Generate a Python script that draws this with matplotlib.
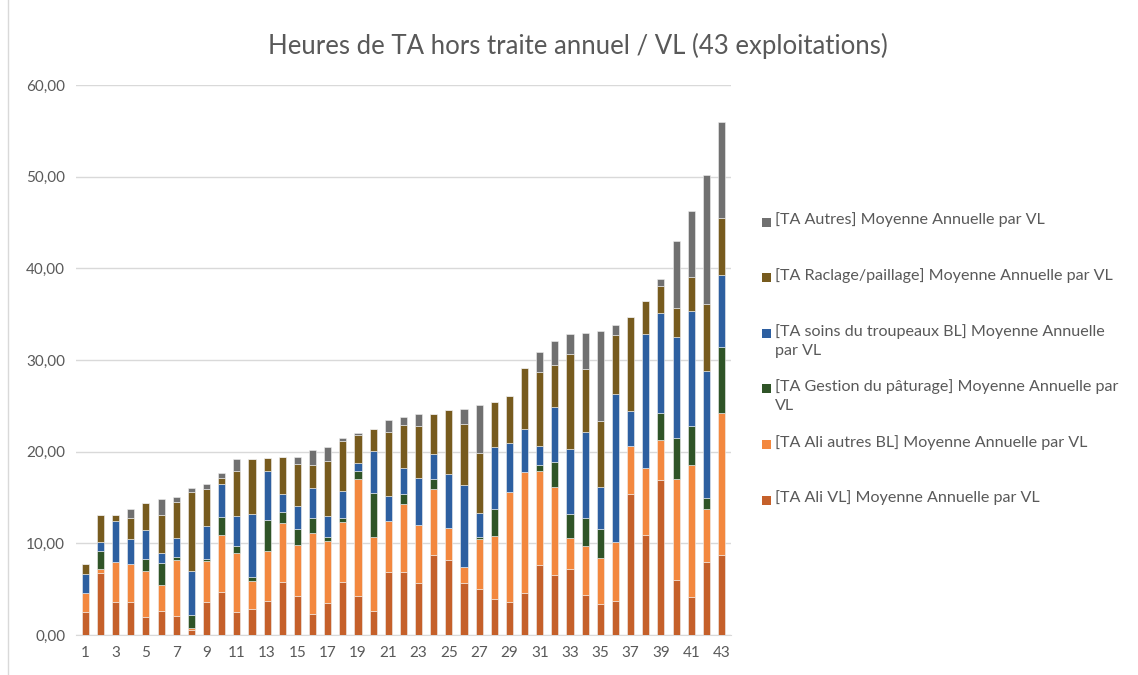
import numpy as np
import matplotlib
matplotlib.use('Agg')
matplotlib.rcParams['font.family'] = ['Lato', 'DejaVu Sans']
import matplotlib.pyplot as plt
from matplotlib.patches import Rectangle
from matplotlib.lines import Line2D

exploitations = list(range(1, 44))

ali_vl = [2.51, 6.76, 3.60, 3.60, 2.00, 2.62, 2.07, 0.55, 3.60, 4.76,
          2.55, 2.87, 3.78, 5.85, 4.29, 2.36, 3.56, 5.85, 4.22, 2.69,
          6.87, 6.87, 5.67, 8.76, 8.18, 5.67, 5.09, 3.93, 3.60, 4.58,
          7.60, 6.51, 7.27, 4.33, 3.38, 3.75, 15.42, 10.91, 16.91, 6.00,
          4.15, 8.00, 8.73]
ali_autres = [2.07, 0.48, 4.36, 4.15, 4.98, 2.83, 6.11, 0.25, 4.47, 6.15,
              6.36, 3.02, 5.38, 6.40, 5.56, 8.80, 6.73, 6.51, 12.80, 8.07,
              5.53, 7.49, 6.37, 7.20, 3.49, 1.75, 5.35, 6.87, 12.04, 13.27,
              10.33, 9.67, 3.31, 5.42, 5.06, 6.43, 5.16, 7.34, 4.36, 10.98,
              14.43, 5.75, 15.52]
paturage = [0.00, 1.96, 0.00, 0.00, 1.35, 2.44, 0.37, 1.35, 0.22, 1.93,
            0.87, 0.47, 3.35, 1.20, 1.71, 1.57, 0.47, 0.40, 0.94, 4.73,
            0.00, 1.02, 0.00, 1.02, 0.00, 0.00, 0.29, 2.98, 0.00, 0.00,
            0.62, 2.66, 2.69, 3.01, 3.12, 0.00, 0.00, 0.00, 2.95, 4.51,
            4.18, 1.23, 7.17]
soins = [2.11, 0.98, 4.51, 2.76, 3.09, 1.09, 2.07, 4.90, 3.67, 3.63,
         3.17, 6.91, 5.38, 2.00, 2.48, 3.31, 2.22, 2.95, 0.80, 4.58,
         2.73, 2.87, 5.05, 2.73, 5.86, 8.98, 2.62, 6.73, 5.27, 4.66,
         2.03, 6.07, 7.06, 9.39, 4.55, 16.15, 3.86, 14.55, 10.91, 11.02,
         12.62, 13.78, 7.85]
raclage = [1.02, 2.91, 0.66, 2.29, 3.02, 4.11, 3.93, 8.62, 3.97, 0.62,
           4.94, 5.97, 1.42, 3.93, 4.61, 2.47, 6.00, 5.45, 3.02, 2.40,
           6.98, 4.66, 5.71, 4.44, 7.05, 6.62, 6.54, 4.91, 5.13, 6.62,
           8.11, 4.58, 10.32, 6.83, 7.20, 6.36, 10.21, 3.67, 2.91, 3.13,
           3.64, 7.31, 6.26]
autres = [0.00, 0.00, 0.00, 0.98, 0.00, 1.71, 0.54, 0.40, 0.51, 0.58,
          1.31, 0.00, 0.00, 0.00, 0.80, 1.64, 1.49, 0.33, 0.26, 0.00,
          1.38, 0.84, 1.31, 0.00, 0.00, 1.67, 5.20, 0.00, 0.00, 0.00,
          2.15, 2.55, 2.22, 4.00, 9.89, 1.09, 0.00, 0.00, 0.76, 7.34,
          7.23, 14.11, 10.43]

series_names = ['[TA Ali VL] Moyenne Annuelle par VL',
                '[TA Ali autres BL] Moyenne Annuelle par VL',
                '[TA Gestion du pâturage] Moyenne Annuelle par\nVL',
                '[TA soins du troupeaux BL] Moyenne Annuelle\npar VL',
                '[TA Raclage/paillage] Moyenne Annuelle par VL',
                '[TA Autres] Moyenne Annuelle par VL']
series_values = [ali_vl, ali_autres, paturage, soins, raclage, autres]
colors = ['#C5602A', '#F3883F', '#2F5427', '#2D5FA0', '#775B1E', '#707070']

fig = plt.figure(figsize=(11.38, 6.75), dpi=100)
ax = fig.add_axes([0.067, 0.059, 0.575, 0.815])

x = np.array(exploitations)
bottom = np.zeros(len(x))
for vals, col in zip(series_values, colors):
    vals = np.array(vals)
    ax.bar(x, vals, width=0.47, bottom=bottom, color=col,
           edgecolor='#f0f0f0', linewidth=0.4, zorder=3)
    bottom += vals

ax.set_ylim(0, 60)
ax.set_xlim(0.4, 43.6)
ax.set_yticks(np.arange(0, 61, 10))
ax.set_yticklabels(['{:.2f}'.format(v).replace('.', ',') for v in np.arange(0, 61, 10)])
ax.set_xticks(x[::2])
ax.set_xticklabels([str(i) for i in x[::2]])
ax.tick_params(length=0, labelsize=11, colors='#595959', pad=8)
ax.yaxis.grid(True, color='#d9d9d9', linewidth=1, zorder=0)
for s in ['top', 'right', 'left']:
    ax.spines[s].set_visible(False)
ax.spines['bottom'].set_color('#d9d9d9')

fig.text(0.508, 0.932, 'Heures de TA hors traite annuel / VL (43 exploitations)',
         ha='center', va='center', fontsize=18.5, color='#595959')

# legend, drawn by hand so the squares line up with the first text line
for i, (name, col) in enumerate(zip(series_names[::-1], colors[::-1])):
    yc = 1 - (222 + i * 55.6) / 675
    fig.patches.append(Rectangle((762 / 1138, yc - 4.5 / 675), 9 / 1138, 9 / 675,
                                 transform=fig.transFigure, facecolor=col,
                                 edgecolor='none'))
    fig.text(775 / 1138, yc + 9.5 / 675, name, ha='left', va='top',
             fontsize=11.6, color='#595959', linespacing=1.45)

fig.lines.append(Line2D([8 / 1138, 8 / 1138], [0, 1], transform=fig.transFigure,
                        color='#d9d9d9', linewidth=1))

plt.savefig('out.png', dpi=100, facecolor='white')
